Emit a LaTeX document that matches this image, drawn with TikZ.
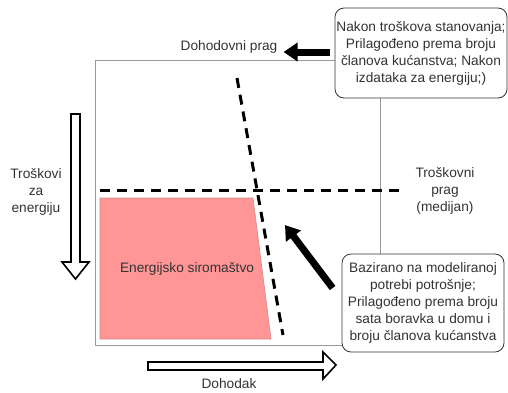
\documentclass[tikz,border=0pt]{standalone}
\usepackage{fontspec}
\setmainfont{Liberation Sans}
\usetikzlibrary{arrows.meta}
\definecolor{txtgray}{HTML}{333333}
\definecolor{framegray}{HTML}{9A9A9A}
\definecolor{povpink}{HTML}{FF9595}
\begin{document}
\begin{tikzpicture}[x=1pt,y=-1pt,
  lbl/.style={text=txtgray,font=\fontsize{13.7}{17}\selectfont,align=center,inner sep=0pt},
  notebox/.style={lbl,draw=txtgray,fill=white,rounded corners=9pt,line width=0.8pt},
  thinline/.style={draw=framegray,line width=0.9pt},
  cut/.style={dash pattern=on 10pt off 7pt,line width=3pt},
  bigarrow/.style={line width=7pt,-{Triangle[length=14pt,width=18pt]}},
  hollow/.style={draw=black,line width=1.6pt,fill=white,line join=miter}]
\useasboundingbox (0,0) rectangle (508,392);
% okvir
\draw[thinline] (95,60) rectangle (380,345);
% pragovi
\draw[cut] (100,190)--(405,190);
\draw[fill=povpink,draw=povpink!60!gray,line width=0.6pt] (100,198)--(253,198)--(271,339)--(100,339)--cycle;
\node[lbl] (siromastvo) at (187,269) {Energijsko siromaštvo};
\draw[cut] (237,78)--(283,335);
% osi
\draw[hollow] (71,114)--(80,114)--(80,262)--(89,262)--(75.5,279)--(62,262)--(71,262)--cycle;
\draw[hollow] (148,362)--(323,362)--(323,352)--(336,365)--(323,379)--(323,370)--(148,370)--cycle;
\node[lbl] (troskovi) at (36,192) {Troškovi\\za\\energiju};
\node[lbl] (dohodak) at (229,384) {Dohodak};
\node[lbl] (tprag) at (445,191) {Troškovni\\prag\\(medijan)};
\node[lbl] (dprag) at (229,47) {Dohodovni prag};
% objasnjenja
\node[notebox,minimum width=172pt,minimum height=90pt] (gornji) at (421,53)
  {Nakon troškova stanovanja;\\Prilagođeno prema broju\\članova kućanstva; Nakon\\izdataka za energiju;)};
\node[notebox,minimum width=162pt,minimum height=98pt] (donji) at (423,303)
  {Bazirano na modeliranoj\\potrebi potrošnje;\\Prilagođeno prema broju\\sata boravka u domu i\\broju članova kućanstva};
\coordinate (vrh) at (285,225);
\draw[bigarrow,shorten <=5pt,shorten >=6pt] ([yshift=1pt]gornji.west)--([yshift=1pt]gornji.west -| dprag.east);
\draw[bigarrow] ([shift={(-9,-15)}]donji.west)--(vrh);
\end{tikzpicture}
\end{document}
